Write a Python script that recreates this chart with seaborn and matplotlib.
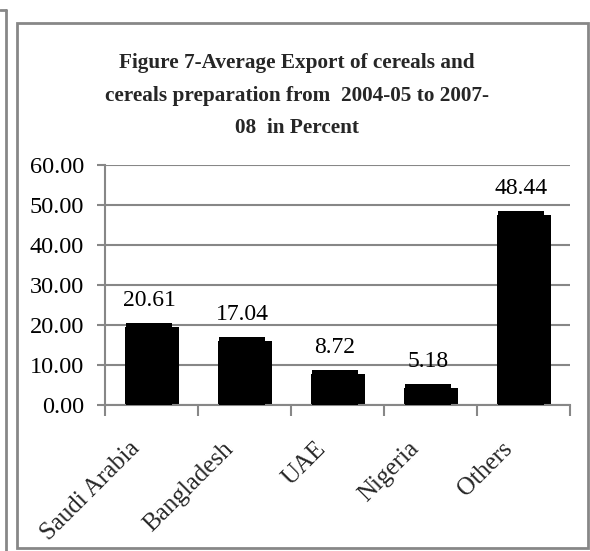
import matplotlib
matplotlib.use("Agg")
import matplotlib.pyplot as plt
import matplotlib.transforms as mtransforms
from matplotlib.patches import Rectangle
from matplotlib.lines import Line2D
import seaborn as sns
import pandas as pd

# Export shares of cereals and cereal preparations, 2004-05 to 2007-08
countries = ["Saudi Arabia", "Bangladesh", "UAE", "Nigeria", "Others"]
shares = [20.61, 17.04, 8.72, 5.18, 48.44]
y_ticks = [0, 10, 20, 30, 40, 50, 60]
title_lines = ["Figure 7-Average Export of cereals and",
               "cereals preparation from  2004-05 to 2007-",
               "08  in Percent"]

df = pd.DataFrame({"country": countries, "share": shares})
depth = 1.0  # how far the side face of each bar drops below its top
df["side"] = df["share"] - depth

sns.set_theme(style="white")
plt.rcParams["font.family"] = ["Liberation Serif", "DejaVu Serif"]

GRAY = "#878787"
W, H = 590, 551
fig = plt.figure(figsize=(W / 100, H / 100), dpi=100)
ax = fig.add_axes([105 / W, 146 / H, 465 / W, 240 / H])

# side face of the bars (drawn first, shifted right)
sns.barplot(data=df, x="country", y="side", color="black", width=0.58,
            saturation=1, ax=ax, zorder=2)
n = len(df)
for p in ax.patches[:n]:
    p.set_x(p.get_x() + 0.01)
    p.set_edgecolor("none")
# front face of the bars
sns.barplot(data=df, x="country", y="share", color="black", width=0.505,
            saturation=1, ax=ax, zorder=3)
for p in ax.patches[n:]:
    p.set_x(p.get_x() - 0.027)
    p.set_edgecolor("none")

# value labels above the front faces
for i, v in enumerate(shares):
    ax.annotate(f"{v:.2f}", xy=(i - 0.027, v), xytext=(0, 12.2),
                textcoords="offset points", ha="center", va="baseline",
                fontsize=17, color="black")

ax.set_xlim(-0.5, n - 0.5)
ax.set_ylim(0, 60)
ax.set_yticks(y_ticks)
ax.set_yticklabels([f"{t:.2f}" for t in y_ticks], fontsize=17.5)
ax.set_xlabel("")
ax.set_ylabel("")
ax.yaxis.grid(True, color=GRAY, linewidth=1.5, zorder=0)
ax.set_axisbelow(True)

for s in ["top", "right"]:
    ax.spines[s].set_visible(False)
for s in ["left", "bottom"]:
    ax.spines[s].set_color(GRAY)
    ax.spines[s].set_linewidth(1.5)

ax.tick_params(axis="y", which="major", left=True, length=6, width=1.5,
               color=GRAY, pad=9, labelcolor="black")
# category ticks sit on the boundaries between groups
ax.set_xticks([i - 0.5 for i in range(n + 1)], minor=True)
ax.tick_params(axis="x", which="minor", bottom=True, length=8, width=1.5,
               color=GRAY)
ax.tick_params(axis="x", which="major", bottom=False, length=0, pad=29)
ax.set_xticks(range(n))
ax.set_xticklabels(countries, fontsize=18, rotation=45, ha="right",
                   va="center", rotation_mode="anchor")
shift = mtransforms.ScaledTranslation(-15 / 100, 0, fig.dpi_scale_trans)
for lab in ax.get_xticklabels():
    lab.set_transform(lab.get_transform() + shift)

for line, base in zip(title_lines, [68, 101, 133]):
    fig.text(297 / W, 1 - base / H, line, ha="center", va="baseline",
             fontsize=15.3, fontweight="bold")

# chart frame and the edge of the neighbouring frame
fig.add_artist(Rectangle((17 / W, 3 / H), 571 / W, 525 / H,
                         transform=fig.transFigure, fill=False,
                         edgecolor=GRAY, linewidth=2))
fig.add_artist(Line2D([6 / W, 6 / W], [0, 1 - 10 / H],
                      transform=fig.transFigure, color=GRAY, linewidth=2))
fig.add_artist(Line2D([0, 6 / W], [1 - 10 / H, 1 - 10 / H],
                      transform=fig.transFigure, color=GRAY, linewidth=2))

fig.savefig("out.png", dpi=100)
